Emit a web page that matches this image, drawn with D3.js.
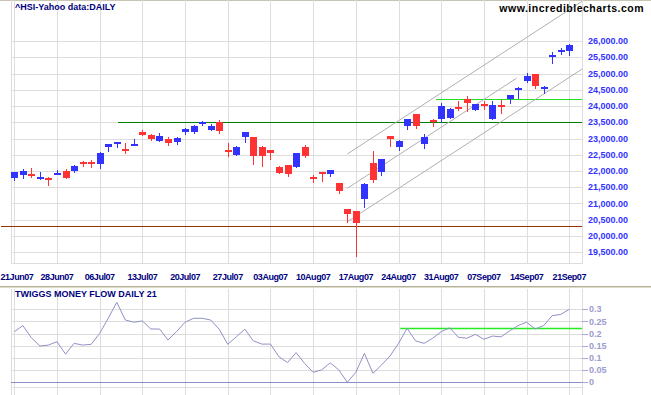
<!DOCTYPE html>
<html>
<head>
<meta charset="utf-8">
<script src="https://cdn.jsdelivr.net/npm/d3@7"></script>
<style>
body { margin: 0; background: #fff; }
svg { display: block; font-family: "Liberation Sans", Arial, sans-serif; }
</style>
</head>
<body>
<svg id="chart"></svg>
<script>
// Globals
var width = 651;
var height = 395;

// trading days shown (HSI, daily)
var dates = [
  "2007-06-21","2007-06-22","2007-06-25","2007-06-26","2007-06-27","2007-06-28","2007-06-29",
  "2007-07-03","2007-07-04","2007-07-05","2007-07-06","2007-07-09","2007-07-10","2007-07-11","2007-07-12","2007-07-13",
  "2007-07-16","2007-07-17","2007-07-18","2007-07-19","2007-07-20","2007-07-23","2007-07-24","2007-07-25","2007-07-26","2007-07-27",
  "2007-07-30","2007-07-31","2007-08-01","2007-08-02","2007-08-03","2007-08-06","2007-08-07","2007-08-08","2007-08-09","2007-08-10",
  "2007-08-13","2007-08-14","2007-08-15","2007-08-16","2007-08-17","2007-08-20","2007-08-21","2007-08-22","2007-08-23","2007-08-24",
  "2007-08-27","2007-08-28","2007-08-29","2007-08-30","2007-08-31","2007-09-03","2007-09-04","2007-09-05","2007-09-06","2007-09-07",
  "2007-09-10","2007-09-11","2007-09-12","2007-09-13","2007-09-14","2007-09-17","2007-09-18","2007-09-19","2007-09-20","2007-09-21"
];

var open = [21795,21880,21910,21795,21785,21915,22000,22010,22285,22280,22225,22750,22870,22675,22810,23200,23115,22930,22985,22900,
  23210,23210,23470,23250,23515,22645,22490,23045,23045,22740,22645,22130,22185,22130,22750,21815,21960,21915,21630,20830,
  20770,21150,22245,21980,23075,22750,23395,23755,22830,23560,23600,23640,23960,24215,23875,24060,23600,24030,24215,24500,
  24770,24985,24530,25560,25660,25690];
var high = [21980,22060,22100,21980,21825,22030,22060,22185,22315,22340,22595,22835,22895,22860,22985,23260,23140,23170,23035,23055,
  23330,23415,23550,23445,23570,22870,22780,23200,23050,22770,22650,22165,22190,22560,22810,21875,21980,22040,21635,20835,
  20775,21640,22625,22370,23080,22955,23600,23760,23140,23610,24090,23930,24155,24310,24065,24155,24155,24185,24340,24585,
  25015,24990,24615,25660,25785,25910];
var low = [21725,21795,21825,21765,21580,21910,21785,21980,22165,22130,22100,22625,22750,22565,22810,23100,22955,22930,22810,22830,
  23140,23180,23415,23250,23160,22470,22490,22890,22215,22165,22370,21945,21855,22130,22430,21670,21700,21855,21330,20420,
  19395,20890,21670,21885,22780,22655,23290,23330,22710,23395,23510,23640,23875,23855,23875,23910,23600,23785,24090,24245,
  24740,24555,24400,25325,25600,25570];
var close = [21975,22000,21855,21815,21730,21950,21795,22155,22225,22255,22555,22830,22890,22615,22830,23115,22975,23085,22870,23025,
  23290,23385,23500,23395,23240,22605,22750,23200,22470,22470,22565,21950,21915,22555,22460,21765,21940,22040,21395,20675,
  20410,21600,21730,22370,22985,22925,23600,23385,23055,23530,24000,23900,23910,24100,24060,24000,24030,23970,24340,24555,
  24925,24625,24585,25580,25725,25875];

// Twiggs Money Flow (21)
var moneyFlow = [0.208,0.233,0.183,0.149,0.153,0.167,0.116,0.160,0.153,0.156,
  0.201,0.263,0.329,0.256,0.247,0.252,0.219,0.219,0.174,0.208,
  0.247,0.263,0.263,0.256,0.218,0.156,0.187,0.218,0.170,0.157,
  0.157,0.105,0.081,0.122,0.078,0.041,0.051,0.080,0.051,0.000,
  0.041,0.119,0.037,0.071,0.108,0.160,0.222,0.170,0.160,0.181,
  0.208,0.224,0.185,0.181,0.197,0.177,0.190,0.187,0.211,0.233,
  0.247,0.219,0.233,0.274,0.279,0.300];

// ticks
var priceTicks = [19500,20000,20500,21000,21500,22000,22500,23000,23500,24000,24500,25000,25500,26000];
var flowTicks = [0,0.05,0.1,0.15,0.2,0.25,0.3];
var dateTickIdx = [0,5,10,15,20,25,30,35,40,45,50,55,60,65];

// drawn lines: [startIndex, startValue, endIndex, endValue]
var channelLines = [
  [39, 22523, 66.5, 27220],
  [39, 21468, 58.84, 24857],
  [39, 20440, 66.5, 25137]
];
var supportLine = 20300;      // brown
var resistLine = 23500;       // dark green
var breakLine = 24206;        // bright green
var flowLine = 0.221;         // green on money flow

// panel geometry
var plotLeft = 11, plotRight = 582;
var mainTop = 0, mainBottom = 263.5;
var lowTop = 289, lowBottom = 395;
var gridColour = "#dddddd";

var svg = d3.select("#chart").attr("width", width).attr("height", height);
svg.append("rect").attr("width", width).attr("height", height).attr("fill", "#fff");

var parse = d3.timeParse("%Y-%m-%d");
var fmtDate = d3.timeFormat("%d%b%y");

var x = d3.scaleLinear().domain([0, 65]).range([14.3, 569.3]);
var y = d3.scaleLinear().domain([19500, 26000]).range([252.25, 41]);
var yf = d3.scaleLinear().domain([0, 0.3]).range([382.3, 309.3]);

function px(v) { return Math.round(v) + 0.5; }

// borders / separators
svg.append("line").attr("x1", 0).attr("x2", width).attr("y1", 0.5).attr("y2", 0.5)
  .attr("stroke", "#c8c5b5");
svg.append("line").attr("x1", 0).attr("x2", width).attr("y1", 286.5).attr("y2", 286.5)
  .attr("stroke", "#b5b29c");
svg.append("line").attr("x1", 0).attr("x2", width).attr("y1", 287.5).attr("y2", 287.5)
  .attr("stroke", "#dedbc8");

// ---------- main panel ----------
var main = svg.append("g").attr("shape-rendering", "crispEdges");

main.selectAll(".hgrid").data(priceTicks).enter().append("line")
  .attr("x1", plotLeft).attr("x2", plotRight)
  .attr("y1", function (d) { return px(y(d)); })
  .attr("y2", function (d) { return px(y(d)); })
  .attr("stroke", gridColour);

main.selectAll(".vgrid").data(dateTickIdx).enter().append("line")
  .attr("x1", function (d) { return px(x(d)); })
  .attr("x2", function (d) { return px(x(d)); })
  .attr("y1", mainTop).attr("y2", mainBottom)
  .attr("stroke", gridColour);

[plotLeft, plotRight].forEach(function (bx) {
  main.append("line").attr("x1", bx + 0.5).attr("x2", bx + 0.5)
    .attr("y1", mainTop).attr("y2", mainBottom).attr("stroke", gridColour);
});
main.append("line").attr("x1", plotLeft).attr("x2", plotRight + 1)
  .attr("y1", mainBottom).attr("y2", mainBottom).attr("stroke", gridColour);

svg.append("clipPath").attr("id", "mainClip").append("rect")
  .attr("x", plotLeft).attr("y", mainTop).attr("width", plotRight - plotLeft + 1).attr("height", mainBottom - mainTop);

// horizontal lines
var levels = svg.append("g").attr("shape-rendering", "crispEdges");
levels.append("line")
  .attr("x1", 1).attr("x2", plotRight)
  .attr("y1", px(y(supportLine))).attr("y2", px(y(supportLine)))
  .attr("stroke", "#993300").attr("stroke-width", 1);
levels.append("line")
  .attr("x1", x(12.2)).attr("x2", plotRight)
  .attr("y1", px(y(resistLine))).attr("y2", px(y(resistLine)))
  .attr("stroke", "#008000").attr("stroke-width", 1);

// channel
svg.append("g").attr("clip-path", "url(#mainClip)")
  .selectAll("line").data(channelLines).enter().append("line")
  .attr("x1", function (d) { return x(d[0]); })
  .attr("y1", function (d) { return y(d[1]); })
  .attr("x2", function (d) { return x(d[2]); })
  .attr("y2", function (d) { return y(d[3]); })
  .attr("stroke", "#b0b0b0").attr("stroke-width", 1);

levels.append("line")
  .attr("x1", x(49.4)).attr("x2", plotRight)
  .attr("y1", px(y(breakLine))).attr("y2", px(y(breakLine)))
  .attr("stroke", "#22dd22").attr("stroke-width", 1);

// candles
var bars = dates.map(function (d, i) {
  return { i: i, o: open[i], h: high[i], l: low[i], c: close[i] };
});
var candleGroup = svg.append("g").attr("shape-rendering", "crispEdges");
var candle = candleGroup.selectAll(".candle").data(bars).enter().append("g");

candle.append("line")
  .attr("x1", function (d) { return px(x(d.i)); })
  .attr("x2", function (d) { return px(x(d.i)); })
  .attr("y1", function (d) { return Math.round(y(d.h)); })
  .attr("y2", function (d) { return Math.round(y(d.l)) + 1; })
  .attr("stroke", function (d) { return d.c >= d.o ? "#3333ff" : "#ff3333"; });

candle.append("rect")
  .attr("x", function (d) { return Math.round(x(d.i)) - 3; })
  .attr("width", 7)
  .attr("y", function (d) { return Math.round(y(Math.max(d.o, d.c))); })
  .attr("height", function (d) {
    return Math.max(2, Math.round(y(Math.min(d.o, d.c))) - Math.round(y(Math.max(d.o, d.c))));
  })
  .attr("fill", function (d) { return d.c >= d.o ? "#3333ff" : "#ff3333"; });

// price axis labels
var fmtPrice = d3.format(",.2f");
svg.append("g").selectAll("text").data(priceTicks).enter().append("text")
  .attr("x", 588)
  .attr("y", function (d) { return y(d); })
  .attr("dy", "0.35em")
  .style("font-size", "9px").style("font-weight", "bold")
  .attr("fill", "#3333ff")
  .text(function (d) { return fmtPrice(d); });

// date labels (first one kept inside the left edge)
svg.append("g").selectAll("text").data(dateTickIdx).enter().append("text")
  .attr("x", function (d, i) { return i === 0 ? 0.5 : x(d); })
  .attr("y", 280)
  .attr("text-anchor", function (d, i) { return i === 0 ? "start" : "middle"; })
  .style("font-size", "9px").style("font-weight", "bold").style("letter-spacing", "-0.45px")
  .attr("fill", "#000080")
  .text(function (d) { return fmtDate(parse(dates[d])); });

svg.append("text").attr("x", 15).attr("y", 10)
  .style("font-size", "9px").style("font-weight", "bold")
  .attr("fill", "#000080")
  .text("^HSI-Yahoo data:DAILY");

svg.append("text").attr("x", 644).attr("y", 12)
  .attr("text-anchor", "end")
  .style("font-size", "10.5px").style("font-weight", "bold").style("letter-spacing", "0.5px")
  .attr("fill", "#000")
  .text("www.incrediblecharts.com");

// ---------- money flow panel ----------
var lowPanel = svg.append("g").attr("shape-rendering", "crispEdges");

lowPanel.selectAll(".vgrid").data(dateTickIdx).enter().append("line")
  .attr("x1", function (d) { return px(x(d)); })
  .attr("x2", function (d) { return px(x(d)); })
  .attr("y1", lowTop).attr("y2", lowBottom)
  .attr("stroke", gridColour);
[plotLeft, plotRight].forEach(function (bx) {
  lowPanel.append("line").attr("x1", bx + 0.5).attr("x2", bx + 0.5)
    .attr("y1", lowTop).attr("y2", lowBottom).attr("stroke", gridColour);
});
lowPanel.selectAll(".hgrid").data(flowTicks.filter(function (d) { return d > 0; })).enter().append("line")
  .attr("x1", plotLeft).attr("x2", plotRight)
  .attr("y1", function (d) { return px(yf(d)); })
  .attr("y2", function (d) { return px(yf(d)); })
  .attr("stroke", gridColour);
lowPanel.append("line").attr("x1", plotLeft).attr("x2", plotRight)
  .attr("y1", 387.5).attr("y2", 387.5).attr("stroke", gridColour);

// tick marks
lowPanel.selectAll(".tick").data(flowTicks).enter().append("line")
  .attr("x1", plotRight).attr("x2", 588)
  .attr("y1", function (d) { return px(yf(d)); })
  .attr("y2", function (d) { return px(yf(d)); })
  .attr("stroke", "#a8a8d8");

lowPanel.append("line").attr("x1", plotLeft).attr("x2", plotRight)
  .attr("y1", px(yf(0))).attr("y2", px(yf(0)))
  .attr("stroke", "#8c8cc8").attr("stroke-width", 1.5);

svg.append("line")
  .attr("x1", x(45.2)).attr("x2", plotRight)
  .attr("y1", yf(flowLine)).attr("y2", yf(flowLine))
  .attr("stroke", "#22ee22").attr("stroke-width", 1.5);

var flowPath = d3.line()
  .x(function (d, i) { return x(i); })
  .y(function (d) { return yf(d); });
svg.append("path").datum(moneyFlow)
  .attr("d", flowPath)
  .attr("fill", "none")
  .attr("stroke", "#9090c8").attr("stroke-width", 1);

svg.append("g").selectAll("text").data(flowTicks).enter().append("text")
  .attr("x", 589)
  .attr("y", function (d) { return yf(d); })
  .attr("dy", "0.35em")
  .style("font-size", "9px").style("font-weight", "bold")
  .attr("fill", "#9c9cd0")
  .text(function (d) { return String(d); });

svg.append("text").attr("x", 15).attr("y", 297)
  .style("font-size", "9px").style("font-weight", "bold")
  .attr("fill", "#000080")
  .text("TWIGGS MONEY FLOW DAILY 21");
</script>
</body>
</html>
